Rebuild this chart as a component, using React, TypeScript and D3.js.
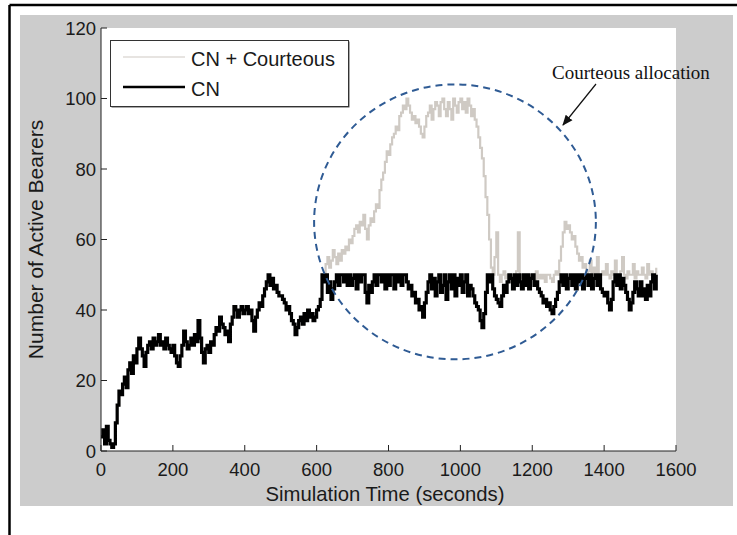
import React from "react";
import * as d3 from "d3";

// Active bearer counts sampled every 5 s, from t = 0 to t = 1545 s.
const SAMPLE_STEP = 5;

const cnBearers = [
  4, 6, 2, 7, 3, 2, 1, 2, 8, 13, 17, 16, 19, 21, 18, 23, 25, 22, 27, 25,
  29, 32, 29, 27, 24, 28, 30, 31, 29, 32, 30, 31, 33, 30, 31, 29, 32, 30, 29, 28,
  30, 27, 25, 24, 27, 30, 34, 31, 29, 30, 32, 30, 33, 31, 37, 32, 28, 25, 29, 30,
  28, 31, 30, 33, 35, 34, 38, 36, 35, 33, 34, 31, 36, 38, 41, 40, 38, 40, 41, 39,
  40, 41, 39, 40, 37, 34, 38, 40, 42, 41, 44, 46, 48, 50, 47, 49, 46, 47, 45, 44,
  44, 43, 42, 40, 41, 39, 37, 36, 33, 35, 37, 38, 36, 39, 37, 40, 38, 39, 37, 38,
  40, 41, 43, 50, 48, 50, 45, 48, 43, 46, 48, 50, 47, 50, 50, 48, 50, 47, 50, 47,
  49, 50, 46, 50, 48, 50, 50, 45, 42, 47, 45, 48, 50, 47, 50, 50, 48, 50, 46, 50,
  47, 50, 50, 46, 50, 48, 50, 47, 50, 50, 48, 46, 47, 44, 45, 42, 43, 40, 41, 38,
  42, 45, 48, 50, 46, 49, 44, 48, 50, 45, 47, 50, 43, 48, 50, 46, 50, 44, 49, 47,
  50, 45, 48, 50, 44, 47, 46, 44, 42, 41, 40, 37, 35, 39, 45, 50, 48, 50, 46, 44,
  43, 42, 41, 44, 47, 45, 48, 50, 49, 46, 50, 47, 50, 48, 46, 50, 47, 50, 46, 49,
  50, 47, 48, 46, 45, 44, 42, 43, 41, 42, 40, 39, 41, 43, 45, 48, 50, 47, 50, 46,
  49, 50, 47, 50, 46, 50, 48, 50, 46, 49, 50, 47, 50, 46, 49, 50, 47, 50, 46, 45,
  44, 45, 42, 40, 43, 48, 50, 47, 50, 46, 49, 47, 45, 43, 40, 42, 45, 48, 46, 44,
  48, 44, 46, 43, 47, 44, 48, 50, 46, 50,
];

// With courteous allocation the run follows CN until t = 620 s, then diverges.
const COURTEOUS_SPLIT = 124;
const courteousTail = [
  50, 53, 55, 52, 54, 57, 55, 53, 56, 54, 57, 56, 58, 57, 60, 59,
  61, 63, 64, 62, 65, 64, 67, 63, 60, 64, 66, 65, 68, 70, 69, 74, 77, 79, 82, 85,
  84, 87, 89, 90, 92, 91, 95, 96, 98, 97, 100, 98, 96, 94, 95, 93, 94, 92, 90, 89,
  92, 95, 96, 98, 94, 97, 99, 98, 95, 99, 100, 97, 95, 99, 97, 94, 100, 98, 96, 99,
  100, 97, 99, 96, 100, 98, 95, 97, 94, 92, 89, 86, 83, 78, 72, 67, 60, 52, 50, 55,
  62, 50, 48, 50, 51, 49, 50, 48, 50, 49, 50, 51, 62, 50, 49, 50, 50, 48, 50, 49,
  50, 48, 51, 49, 50, 49, 50, 48, 50, 50, 49, 48, 50, 51, 50, 54, 58, 62, 65, 63,
  64, 62, 60, 61, 58, 56, 54, 55, 52, 53, 50, 51, 54, 50, 52, 50, 55, 50, 50, 51,
  50, 53, 50, 49, 51, 50, 54, 50, 49, 51, 55, 50, 49, 51, 50, 50, 53, 49, 51, 50,
  50, 52, 50, 49, 53, 50, 51, 50, 49, 52,
];
const courteousBearers = cnBearers.slice(0, COURTEOUS_SPLIT).concat(courteousTail);

const xTicks = [0, 200, 400, 600, 800, 1000, 1200, 1400, 1600];
const yTicks = [0, 20, 40, 60, 80, 100, 120];
const seriesNames = ["CN + Courteous", "CN"];
const xLabel = "Simulation Time (seconds)";
const yLabel = "Number of Active Bearers";
const calloutText = "Courteous allocation";

// Highlighted region (data units): centre time, centre count, half-width, half-height
const regionCentre = [985, 65];
const regionRadius = [392, 39];

const W = 737;
const H = 535;
const plot = { left: 101, right: 676, top: 28, bottom: 451 };

const COLORS = {
  courteous: "#cfcac4",
  cn: "#000000",
  figure: "#cccccc",
  region: "#2f5b94",
};

const SANS = "'Liberation Sans', Arial, Helvetica, sans-serif";
const SERIF = "'Liberation Serif', 'Times New Roman', serif";

export default function App() {
  const x = d3.scaleLinear().domain([0, 1600]).range([plot.left, plot.right]);
  const y = d3.scaleLinear().domain([0, 120]).range([plot.bottom, plot.top]);

  // bearer counts change in discrete steps
  const line = d3
    .line<number>()
    .x((_, i) => x(i * SAMPLE_STEP))
    .y((d) => y(d))
    .curve(d3.curveStepAfter);

  const cx = x(regionCentre[0]);
  const cy = y(regionCentre[1]);
  const rx = x(regionCentre[0] + regionRadius[0]) - cx;
  const ry = cy - y(regionCentre[1] + regionRadius[1]);

  return (
    <svg
      width={W}
      height={H}
      viewBox={`0 0 ${W} ${H}`}
      style={{ position: "absolute", left: 0, top: 0, background: "#ffffff" }}
    >
      <defs>
        <clipPath id="plot-clip">
          <rect x={plot.left} y={plot.top - 2} width={plot.right - plot.left} height={plot.bottom - plot.top + 2} />
        </clipPath>
        <marker id="arrow-head" viewBox="0 0 10 10" refX="9" refY="5" markerWidth="9" markerHeight="9" orient="auto">
          <path d="M0,1 L10,5 L0,9 Z" fill="#111" />
        </marker>
      </defs>

      {/* page frame */}
      <line x1={9.5} y1={5} x2={W} y2={5} stroke="#000" strokeWidth={2.5} />
      <line x1={9.5} y1={5} x2={9.5} y2={H} stroke="#000" strokeWidth={2.5} />

      {/* figure background */}
      <rect x={20} y={15} width={713} height={491} fill={COLORS.figure} />

      {/* axes background */}
      <rect x={plot.left} y={plot.top} width={plot.right - plot.left} height={plot.bottom - plot.top} fill="#ffffff" />

      {/* series */}
      <g clipPath="url(#plot-clip)" fill="none" strokeLinejoin="miter">
        <path d={line(courteousBearers) ?? ""} stroke={COLORS.courteous} strokeWidth={2.2} />
        <path d={line(cnBearers) ?? ""} stroke={COLORS.cn} strokeWidth={3.2} />
      </g>

      {/* axes */}
      <g stroke="#222" strokeWidth={1} fill="none">
        <line x1={plot.left} y1={plot.top} x2={plot.left} y2={plot.bottom} />
        <line x1={plot.left} y1={plot.bottom} x2={plot.right} y2={plot.bottom} />
        {xTicks.map((t) => (
          <line key={`xt${t}`} x1={x(t)} x2={x(t)} y1={plot.bottom} y2={plot.bottom - 6} />
        ))}
        {yTicks.map((v) => (
          <line key={`yt${v}`} x1={plot.left} x2={plot.left + 6} y1={y(v)} y2={y(v)} />
        ))}
      </g>
      <g fontFamily={SANS} fontSize={18.5} fill="#1a1a1a">
        {xTicks.map((t) => (
          <text key={`xl${t}`} x={x(t)} y={476} textAnchor="middle">
            {t}
          </text>
        ))}
        {yTicks.map((v) => (
          <text key={`yl${v}`} x={96} y={y(v)} dy="0.36em" textAnchor="end">
            {v}
          </text>
        ))}
      </g>
      <text x={385} y={501} textAnchor="middle" fontFamily={SANS} fontSize={20.3} fill="#1a1a1a">
        {xLabel}
      </text>
      <text
        transform={`translate(43, ${(plot.top + plot.bottom) / 2}) rotate(-90)`}
        textAnchor="middle"
        fontFamily={SANS}
        fontSize={21}
        fill="#1a1a1a"
      >
        {yLabel}
      </text>

      {/* legend */}
      <rect x={111.5} y={41.5} width={238} height={66} fill="#555" />
      <rect x={110.5} y={40.5} width={238} height={66} fill="#ffffff" stroke="#333" strokeWidth={1} />
      <line x1={123} x2={185} y1={57} y2={57} stroke={COLORS.courteous} strokeWidth={1.2} />
      <line x1={123} x2={185} y1={87} y2={87} stroke={COLORS.cn} strokeWidth={2.4} />
      <g fontFamily={SANS} fontSize={20} fill="#1a1a1a">
        <text x={191} y={66}>{seriesNames[0]}</text>
        <text x={191} y={96}>{seriesNames[1]}</text>
      </g>

      {/* highlighted region and callout */}
      <ellipse
        cx={cx}
        cy={cy}
        rx={rx}
        ry={ry}
        fill="none"
        stroke={COLORS.region}
        strokeWidth={2}
        strokeDasharray="7 5"
      />
      <line x1={596} y1={84} x2={563} y2={125} stroke="#111" strokeWidth={1.2} markerEnd="url(#arrow-head)" />
      <text x={552} y={79} fontFamily={SERIF} fontSize={19} fill="#111">
        {calloutText}
      </text>
    </svg>
  );
}
